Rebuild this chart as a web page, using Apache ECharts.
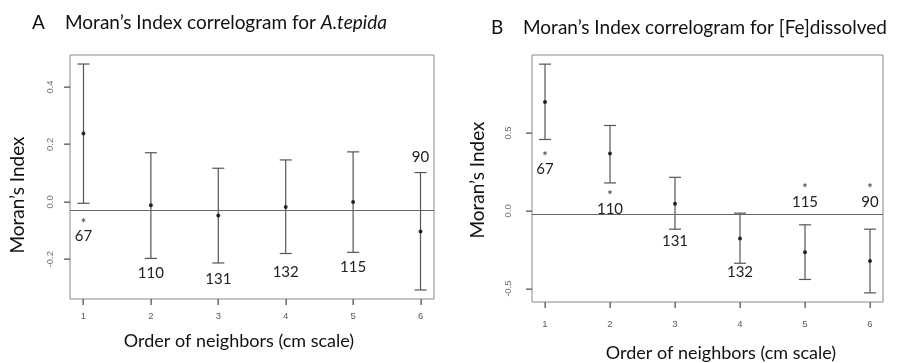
<!DOCTYPE html>
<html>
<head>
<meta charset="utf-8">
<script src="https://cdn.jsdelivr.net/npm/echarts@6/dist/echarts.min.js"></script>
<style>
  html, body { margin: 0; padding: 0; background: #fff; }
  #chart { width: 918px; height: 363px; }
</style>
</head>
<body>
<div id="chart"></div>
<script>
// order of neighbours (x)
const orders = [1, 2, 3, 4, 5, 6];
const pairLabels = ['67', '110', '131', '132', '115', '90'];

// panel A - A.tepida
const aMoran = [0.238, -0.012, -0.048, -0.018, -0.001, -0.103];
const aLow = [-0.005, -0.197, -0.213, -0.180, -0.176, -0.307];
const aHigh = [0.480, 0.171, 0.117, 0.146, 0.174, 0.102];
const aLabelY = [-0.121, -0.248, -0.269, -0.245, -0.227, 0.155];
const aStar = [1, 0, 0, 0, 0, 0];
const aExpected = -0.030;
const aTicks = [-0.2, 0.0, 0.2, 0.4];

// panel B - [Fe]dissolved
const bMoran = [0.699, 0.368, 0.045, -0.178, -0.267, -0.323];
const bLow = [0.458, 0.179, -0.118, -0.337, -0.441, -0.527];
const bHigh = [0.942, 0.548, 0.215, -0.015, -0.090, -0.118];
const bLabelY = [0.265, 0.013, -0.192, -0.392, 0.056, 0.056];
const bStar = [1, 1, 0, 0, 1, 1];
const bExpected = -0.024;
const bTicks = [-0.5, 0.0, 0.5];

const FONT = 'Lato';

// R style 4% padding
function pad(lo, hi) {
  const d = (hi - lo) * 0.04;
  return [lo - d, hi + d];
}

function panel(i, moran, low, high, labY, star, expected, yTicks, xMargin, yMargin) {
  const xr = pad(1, 6);
  const yr = pad(Math.min(...low), Math.max(...high));
  const xAxis = {
    gridIndex: i, type: 'value', min: xr[0], max: xr[1],
    axisLine: { show: false, onZero: false },
    splitLine: { show: false },
    axisTick: { show: false },
    axisLabel: { customValues: orders, margin: xMargin, fontFamily: 'Liberation Sans',
      fontSize: 9.5, color: '#505a6e' }
  };
  const yAxis = {
    gridIndex: i, type: 'value', min: yr[0], max: yr[1],
    axisLine: { show: false, onZero: false },
    splitLine: { show: false },
    axisTick: { show: false },
    axisLabel: { customValues: yTicks, rotate: 90, margin: yMargin,
      fontFamily: 'Liberation Sans', fontSize: 9.5, color: '#7a6e62',
      formatter: v => v.toFixed(1) }
  };
  const series = [
    {
      type: 'custom', xAxisIndex: i, yAxisIndex: i,
      data: orders.map((x, k) => [x, low[k], high[k]]),
      renderItem: (params, api) => {
        const lo = api.coord([api.value(0), api.value(1)]);
        const hi = api.coord([api.value(0), api.value(2)]);
        const w = 6;
        const st = { stroke: '#555', lineWidth: 1.2 };
        return { type: 'group', children: [
          { type: 'line', shape: { x1: lo[0], y1: lo[1], x2: hi[0], y2: hi[1] }, style: st },
          { type: 'line', shape: { x1: lo[0] - w, y1: lo[1], x2: lo[0] + w, y2: lo[1] }, style: st },
          { type: 'line', shape: { x1: hi[0] - w, y1: hi[1], x2: hi[0] + w, y2: hi[1] }, style: st }
        ] };
      },
      markLine: {
        silent: true, symbol: 'none', label: { show: false },
        lineStyle: { color: '#666', type: 'solid', width: 1.2 },
        data: [{ yAxis: expected }]
      },
      z: 2
    },
    {
      type: 'scatter', xAxisIndex: i, yAxisIndex: i,
      data: orders.map((x, k) => [x, moran[k]]),
      symbolSize: 4, itemStyle: { color: '#000' }, z: 3
    },
    {
      type: 'custom', xAxisIndex: i, yAxisIndex: i,
      data: orders.map((x, k) => [x, labY[k]]),
      renderItem: (params, api) => {
        const k = params.dataIndex;
        const p = api.coord([api.value(0), api.value(1)]);
        const kids = [{
          type: 'text', x: p[0], y: p[1],
          style: { text: pairLabels[k], font: '15px ' + FONT, fill: '#222',
            align: 'center', verticalAlign: 'middle' }
        }];
        if (star[k]) {
          kids.push({
            type: 'text', x: p[0], y: p[1] - 13,
            style: { text: '*', font: '13px ' + FONT, fill: '#333',
              align: 'center', verticalAlign: 'middle' }
          });
        }
        return { type: 'group', children: kids };
      },
      z: 4
    }
  ];
  return { xAxis, yAxis, series, xr, yr, yTicks };
}

const pA = panel(0, aMoran, aLow, aHigh, aLabelY, aStar, aExpected, aTicks, 12, 15);
const pB = panel(1, bMoran, bLow, bHigh, bLabelY, bStar, bExpected, bTicks, 17, 19);

const chart = echarts.init(document.getElementById('chart'), null, { renderer: 'canvas' });
chart.setOption({
  animation: false,
  backgroundColor: '#fff',
  grid: [
    { left: 70, top: 55, width: 364, height: 244, show: true, borderColor: '#888', borderWidth: 1 },
    { left: 532, top: 55, width: 351, height: 247, show: true, borderColor: '#888', borderWidth: 1 }
  ],
  xAxis: [pA.xAxis, pB.xAxis],
  yAxis: [pA.yAxis, pB.yAxis],
  series: pA.series.concat(pB.series)
});

const texts = [
  { type: 'text', x: 32, y: 23, style: { text: 'A', font: '19px ' + FONT, fill: '#111', verticalAlign: 'middle' } },
  { type: 'text', x: 65, y: 23, style: {
    text: 'Moran’s Index correlogram for {i|A.tepida}', font: '19px ' + FONT, fill: '#111',
    verticalAlign: 'middle', rich: { i: { fontStyle: 'italic', fontFamily: FONT, fontSize: 19, fill: '#111' } } } },
  { type: 'text', x: 491, y: 28, style: { text: 'B', font: '19px ' + FONT, fill: '#111', verticalAlign: 'middle' } },
  { type: 'text', x: 523, y: 28, style: { text: 'Moran’s Index correlogram for [Fe]dissolved',
    font: '19px ' + FONT, fill: '#111', verticalAlign: 'middle' } },
  { type: 'text', x: 18, y: 195, rotation: Math.PI / 2, style: { text: 'Moran’s Index',
    font: '19px ' + FONT, fill: '#111', align: 'center', verticalAlign: 'middle' } },
  { type: 'text', x: 478, y: 180, rotation: Math.PI / 2, style: { text: 'Moran’s Index',
    font: '19px ' + FONT, fill: '#111', align: 'center', verticalAlign: 'middle' } },
  { type: 'text', x: 239, y: 341, style: { text: 'Order of neighbors (cm scale)',
    font: '18px ' + FONT, fill: '#111', align: 'center', verticalAlign: 'middle' } },
  { type: 'text', x: 721, y: 353, style: { text: 'Order of neighbors (cm scale)',
    font: '18px ' + FONT, fill: '#111', align: 'center', verticalAlign: 'middle' } }
];

// outward tick marks (R style) as thin filled rects, placed via the axes' scales
const ticks = [];
[pA, pB].forEach((p, i) => {
  orders.forEach(x => {
    const c = chart.convertToPixel({ xAxisIndex: i, yAxisIndex: i }, [x, p.yr[0]]);
    ticks.push({ type: 'rect', silent: true, z: 100,
      shape: { x: Math.round(c[0]) - 0.5, y: c[1], width: 1.3, height: 6 },
      style: { fill: '#555' } });
  });
  p.yTicks.forEach(v => {
    const c = chart.convertToPixel({ xAxisIndex: i, yAxisIndex: i }, [p.xr[0], v]);
    ticks.push({ type: 'rect', silent: true, z: 100,
      shape: { x: c[0] - 6, y: Math.round(c[1]) - 0.5, width: 6, height: 1.3 },
      style: { fill: '#555' } });
  });
});

chart.setOption({ graphic: { elements: texts.concat(ticks) } });
</script>
</body>
</html>
